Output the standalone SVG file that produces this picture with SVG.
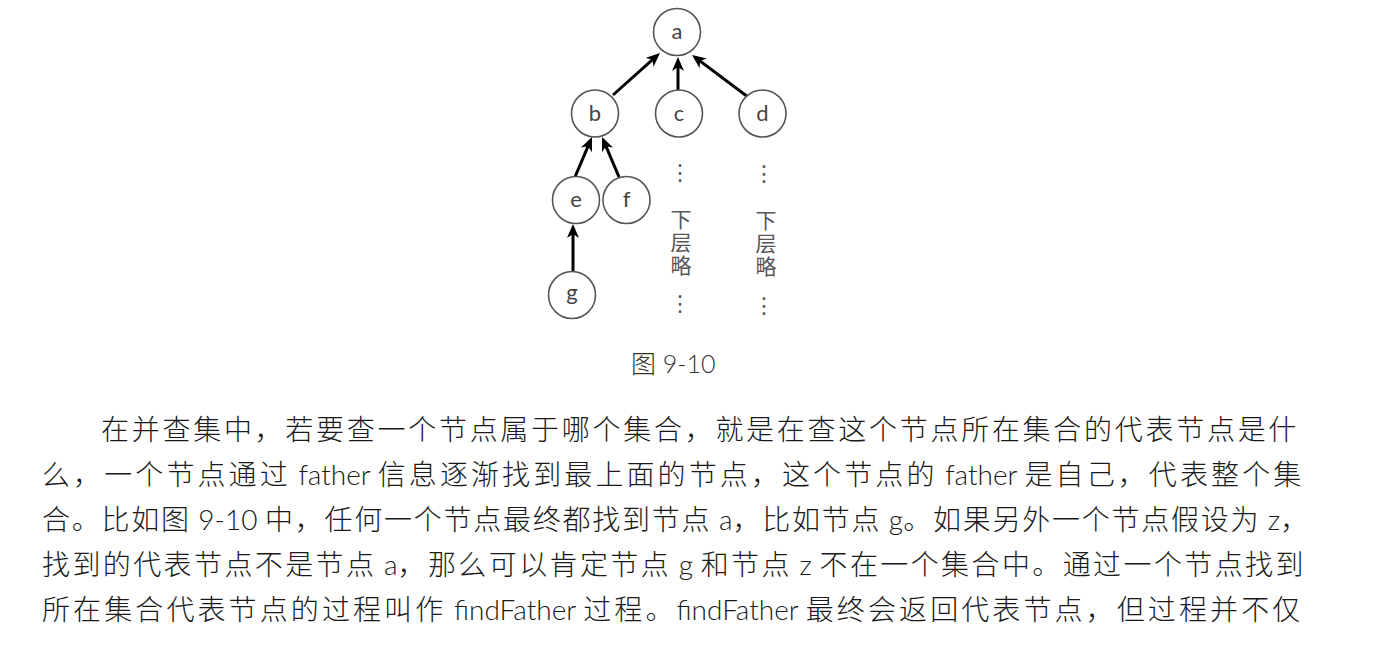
<svg xmlns="http://www.w3.org/2000/svg" width="1378" height="670" viewBox="0 0 1378 670">
<defs>
<style>
.node circle{fill:#fff;stroke:#555;stroke-width:1.6}
.node text{font-family:Lato,"Noto Sans",sans-serif;font-size:22px;fill:#444;text-anchor:middle}
.edge{stroke:#000;stroke-width:3;fill:none;marker-end:url(#ah)}
.note{font-family:"Noto Sans CJK SC",sans-serif;font-size:21px;fill:#555;writing-mode:vertical-rl;letter-spacing:2px}
.dots{font-family:"DejaVu Sans",sans-serif;font-size:22px;fill:#555;text-anchor:middle}
.body{font-family:Lato,"Noto Sans CJK SC",sans-serif;font-size:28px;fill:#1a1a1a;font-weight:300}
.lat{letter-spacing:0}
.cap{font-family:Lato,"Noto Sans CJK SC",sans-serif;font-size:25px;fill:#333;font-weight:300}
</style>
<marker id="ah" markerUnits="userSpaceOnUse" markerWidth="16" markerHeight="14" refX="10" refY="6" orient="auto">
<path d="M0,0 L14,6 L0,12 L4,6 z" fill="#000"/>
</marker>
</defs>
<rect width="1378" height="670" fill="#fff"/>
<g id="connectors">
<line class="edge" x1="613" y1="95" x2="657" y2="55.7"/>
<line class="edge" x1="678" y1="91" x2="678" y2="61"/>
<line class="edge" x1="748" y1="97" x2="695.2" y2="57.4"/>
<line class="edge" x1="575" y1="177" x2="590.4" y2="140.7"/>
<line class="edge" x1="619" y1="177" x2="603.6" y2="140.7"/>
<line class="edge" x1="573" y1="272" x2="573" y2="228"/>
</g>
<g id="node-a" class="node"><circle cx="677" cy="32" r="23.5"/><text x="677" y="39">a</text></g>
<g id="node-b" class="node"><circle cx="595" cy="113.5" r="23.5"/><text x="595" y="121">b</text></g>
<g id="node-c" class="node"><circle cx="679" cy="113.5" r="23.5"/><text x="679" y="121">c</text></g>
<g id="node-d" class="node"><circle cx="762.5" cy="113.5" r="23.5"/><text x="762.5" y="121">d</text></g>
<g id="node-e" class="node"><circle cx="576" cy="200" r="23.5"/><text x="576" y="207">e</text></g>
<g id="node-f" class="node"><circle cx="626.5" cy="200" r="23.5"/><text x="626.5" y="207">f</text></g>
<g id="node-g" class="node"><circle cx="572" cy="295" r="23.5"/><text x="572" y="300">g</text></g>
<g id="omit-c">
<text class="dots" x="680" y="180">⋮</text>
<text class="note" x="681" y="209">下层略</text>
<text class="dots" x="680" y="311">⋮</text>
</g>
<g id="omit-d">
<text class="dots" x="764" y="181">⋮</text>
<text class="note" x="766" y="210">下层略</text>
<text class="dots" x="764" y="313">⋮</text>
</g>
<text class="cap" x="631" y="373">图 9-10</text>
<g id="body-text">
<text class="body" x="101" y="440" style="letter-spacing:2.72px">在并查集中，若要查一个节点属于哪个集合，就是在查这个节点所在集合的代表节点是什</text>
<text class="body" x="42" y="485" style="letter-spacing:3.1px">么，一个节点通过<tspan class="lat"> father </tspan>信息逐渐找到最上面的节点，这个节点的<tspan class="lat"> father </tspan>是自己，代表整个集</text>
<text class="body" x="42" y="529.5" style="letter-spacing:1.75px">合。比如图<tspan class="lat"> 9-10 </tspan>中，任何一个节点最终都找到节点<tspan class="lat"> a</tspan>，比如节点<tspan class="lat"> g</tspan>。如果另外一个节点假设为<tspan class="lat"> z</tspan>，</text>
<text class="body" x="42" y="574.5" style="letter-spacing:2.4px">找到的代表节点不是节点<tspan class="lat"> a</tspan>，那么可以肯定节点<tspan class="lat"> g </tspan>和节点<tspan class="lat"> z </tspan>不在一个集合中。通过一个节点找到</text>
<text class="body" x="42" y="619.5" style="letter-spacing:3.1px">所在集合代表节点的过程叫作<tspan class="lat"> findFather </tspan>过程。<tspan class="lat">findFather </tspan>最终会返回代表节点，但过程并不仅</text>
</g>
</svg>
